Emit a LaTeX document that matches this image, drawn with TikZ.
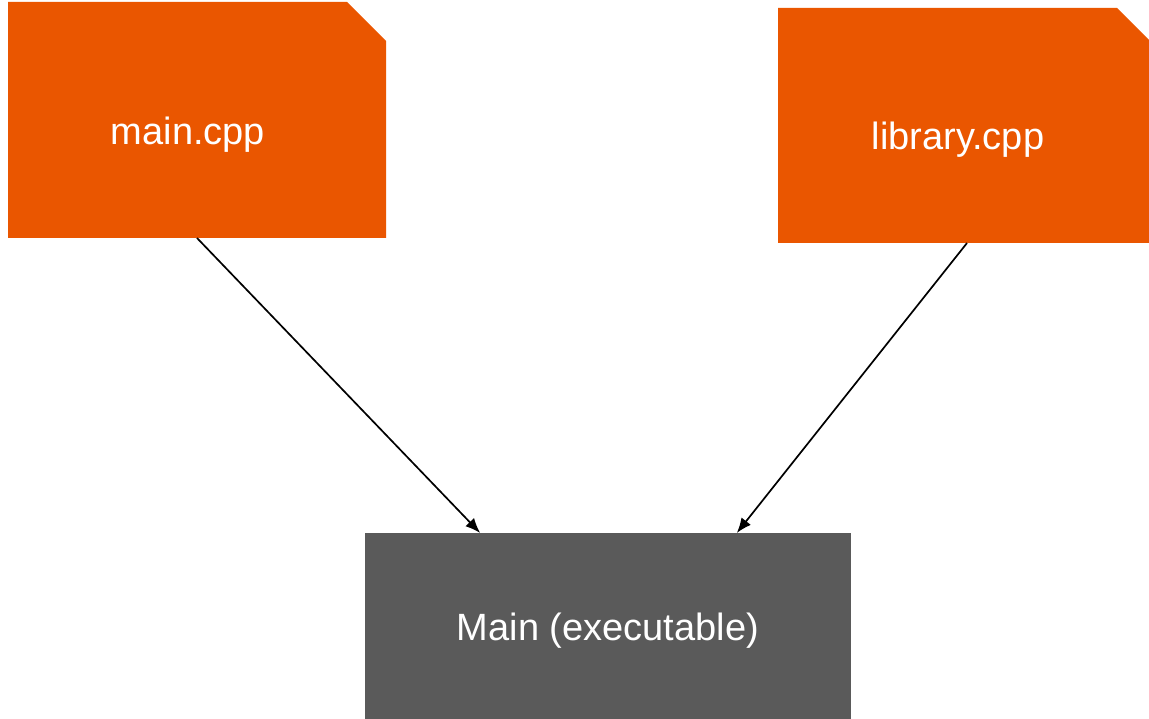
\documentclass[tikz,border=0pt]{standalone}
\usepackage{fontspec}
\setmainfont{Liberation Sans}
\usetikzlibrary{calc,arrows.meta}
\definecolor{fileorange}{RGB}{234,86,0}
\definecolor{exegray}{RGB}{90,90,90}
\tikzset{
  box/.style={rectangle, draw=none, inner sep=0pt, outer sep=0pt},
  lbl/.style={text=white, font=\fontsize{38}{44}\selectfont, anchor=base, inner sep=0pt},
  conn/.style={-{Latex[length=15pt,width=12pt]}, line width=1.7pt, black},
}
\begin{document}
\begin{tikzpicture}[x=1pt,y=-1pt]
\useasboundingbox (0,0) rectangle (1149,719);
\clip (0,0) rectangle (1149,719);
\node[box, minimum width=378pt, minimum height=236pt] (main) at (197,120) {};
\node[box, minimum width=378pt, minimum height=235pt] (lib) at (967,125.5) {};
\node[box, minimum width=486pt, minimum height=200pt] (exe) at (608,633) {};
\fill[fileorange] (main.south west) |- ($(main.north east)+(-39,0)$) -- ($(main.north east)+(0,39)$) -- (main.south east) -- cycle;
\fill[fileorange] (lib.south west) |- ($(lib.north east)+(-39,0)$) -- ($(lib.north east)+(0,39)$) -- (lib.south east) -- cycle;
\fill[exegray] (exe.south west) rectangle (exe.north east);
\node[lbl] (maint) at ($(main.north)+(-9,143)$) {main.cpp};
\node[lbl] (libt) at ($(lib.north)+(-9,142)$) {library.cpp};
\node[lbl] (exet) at ($(exe.north)+(0,107)$) {Main (executable)};
\coordinate (exein1) at ($(exe.north west)!0.237!(exe.north east)$);
\coordinate (exein2) at ($(exe.north west)!0.765!(exe.north east)$);
\draw[conn] (main.south) -- (exein1);
\draw[conn] (lib.south) -- (exein2);
\end{tikzpicture}
\end{document}
